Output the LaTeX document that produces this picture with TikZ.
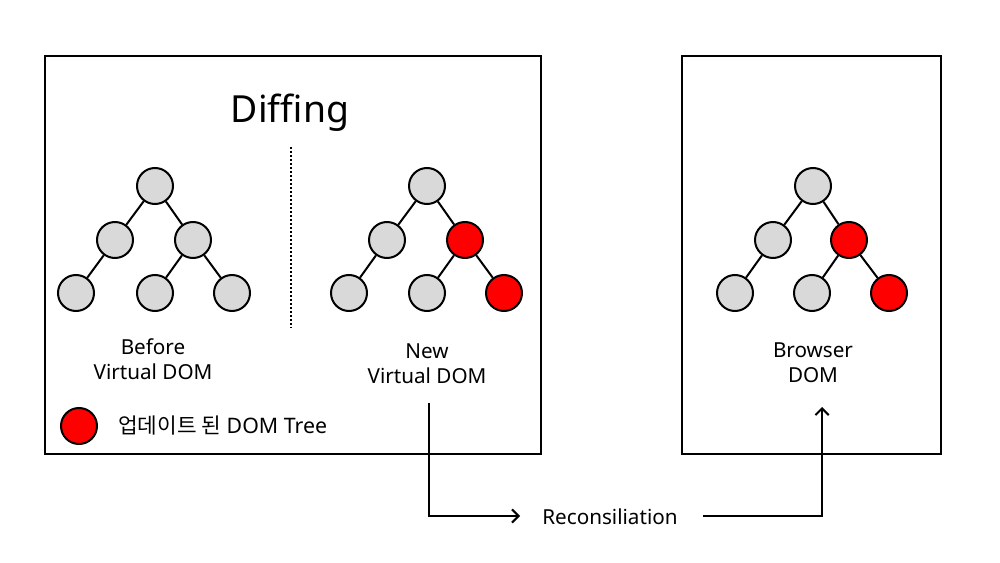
\documentclass[tikz,border=0pt]{standalone}
\usepackage{fontspec}
\setmainfont{Noto Sans}
\newfontfamily\krfont{Noto Sans CJK KR}
\usetikzlibrary{arrows.meta}
\definecolor{nodegray}{RGB}{217,217,217}
\definecolor{nodered}{RGB}{255,0,0}
\tikzset{
  tn/.style={circle,draw=black,line width=1.5pt,fill=nodegray,minimum size=27pt,inner sep=0pt},
  tnred/.style={tn,fill=nodered},
  edge/.style={line width=1.5pt},
  frame/.style={draw=black,line width=1.5pt},
  lbl/.style={align=center,font=\fontsize{15.5pt}{19pt}\selectfont,inner sep=0pt},
  flow/.style={line width=1.5pt,-{Straight Barb[length=5pt,width=10pt,line width=1.5pt]}},
}
\begin{document}
\begin{tikzpicture}[x=0.75pt,y=-0.75pt]
\useasboundingbox (0,0) rectangle (1000,563);
\fill[white] (0,0) rectangle (1000,563);
% frames
\draw[frame] (45,56) rectangle (541,454);
\draw[frame] (682,56) rectangle (941,454);
% title
\node[font=\fontsize{28pt}{32pt}\selectfont,inner sep=0pt] (title) at (290,113) {Diffing};
% dotted divider
\coordinate (dtop) at (291,147);
\coordinate (dbot) at (291,328);
\draw[line width=1.5pt,dash pattern=on 1.5pt off 1.5pt] (dtop) -- (dbot);
% tree 1
\node[tn] (a1) at (155,186) {};
\node[tn] (a2) at (115,240) {};
\node[tn] (a3) at (193,240) {};
\node[tn] (a4) at (76,293) {};
\node[tn] (a5) at (155,293) {};
\node[tn] (a6) at (232,293) {};
\draw[edge] (a1)--(a2) (a1)--(a3) (a2)--(a4) (a3)--(a5) (a3)--(a6);
% tree 2
\node[tn] (b1) at (427,186) {};
\node[tn] (b2) at (387,240) {};
\node[tnred] (b3) at (465,240) {};
\node[tn] (b4) at (349,293) {};
\node[tn] (b5) at (427,293) {};
\node[tnred] (b6) at (504,293) {};
\draw[edge] (b1)--(b2) (b1)--(b3) (b2)--(b4) (b3)--(b5) (b3)--(b6);
% tree 3
\node[tn] (c1) at (813,186) {};
\node[tn] (c2) at (773,240) {};
\node[tnred] (c3) at (849,240) {};
\node[tn] (c4) at (735,293) {};
\node[tn] (c5) at (812,293) {};
\node[tnred] (c6) at (889,293) {};
\draw[edge] (c1)--(c2) (c1)--(c3) (c2)--(c4) (c3)--(c5) (c3)--(c6);
% labels
\node[lbl] (l1) at (153,359) {Before\\Virtual DOM};
\node[lbl] (l2) at (427,364) {New\\Virtual DOM};
\node[lbl] (l3) at (813,363) {Browser\\DOM};
% legend
\node[tnred] (leg) at (79,426) {};
\node[anchor=west,inner sep=0pt,font=\fontsize{16pt}{19pt}\selectfont] (legtxt) at (118,426) {{\krfont 업데이트 된} DOM Tree};
% reconciliation
\node[font=\fontsize{15.5pt}{19pt}\selectfont,inner sep=0pt] (rec) at (610,517) {Reconsiliation};
\coordinate (s1) at (429,403);
\coordinate (s2) at (429,516);
\coordinate (e1) at (520,516);
\coordinate (t1) at (703,516);
\coordinate (t2) at (822,516);
\coordinate (t3) at (822,407);
\draw[flow] (s1) -- (s2) -- (e1);
\draw[flow] (t1) -- (t2) -- (t3);
\end{tikzpicture}
\end{document}
